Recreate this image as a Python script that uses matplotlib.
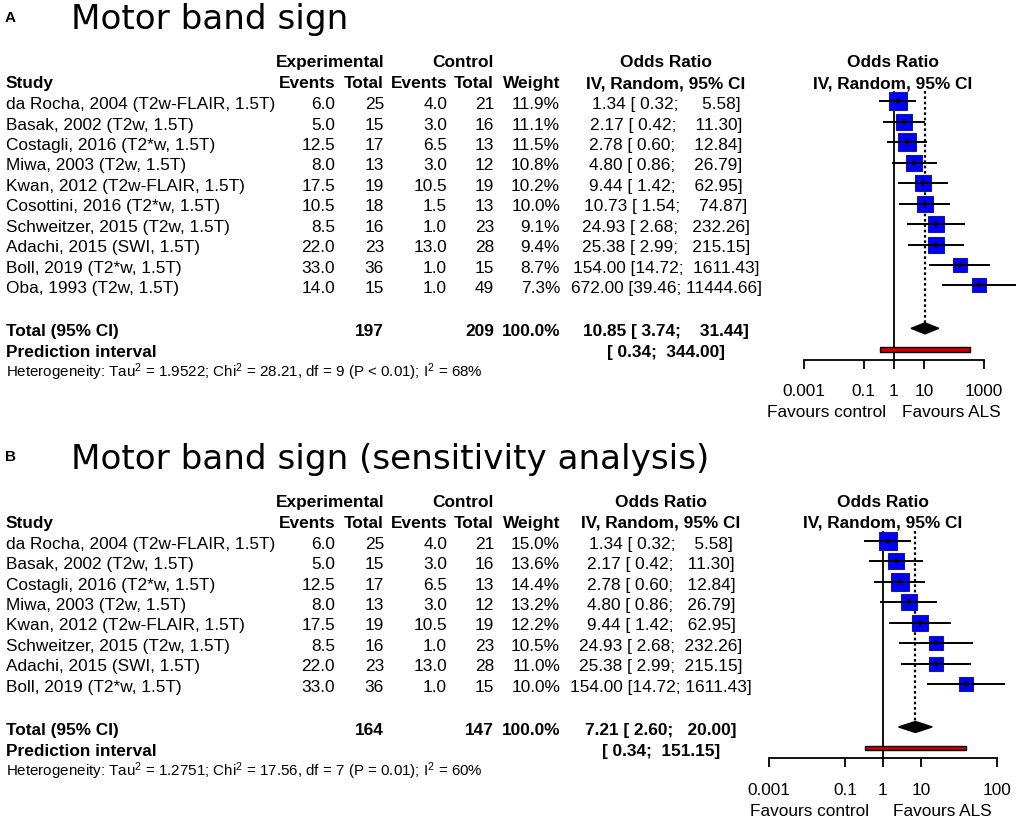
import numpy as np
import matplotlib
matplotlib.use("Agg")
import matplotlib.pyplot as plt
from matplotlib.ticker import FixedLocator, FixedFormatter, NullLocator

plt.rcParams['font.family'] = ['Liberation Sans', 'DejaVu Sans']
plt.rcParams['mathtext.fontset'] = 'custom'
plt.rcParams['mathtext.rm'] = 'Liberation Sans'
plt.rcParams['mathtext.it'] = 'Liberation Sans:italic'
plt.rcParams['mathtext.bf'] = 'Liberation Sans:bold'

# ---- data -------------------------------------------------------------
studies = [
    "da Rocha, 2004 (T2w-FLAIR, 1.5T)",
    "Basak, 2002 (T2w, 1.5T)",
    "Costagli, 2016 (T2*w, 1.5T)",
    "Miwa, 2003 (T2w, 1.5T)",
    "Kwan, 2012 (T2w-FLAIR, 1.5T)",
    "Cosottini, 2016 (T2*w, 1.5T)",
    "Schweitzer, 2015 (T2w, 1.5T)",
    "Adachi, 2015 (SWI, 1.5T)",
    "Boll, 2019 (T2*w, 1.5T)",
    "Oba, 1993 (T2w, 1.5T)",
]
exp_events = [6.0, 5.0, 12.5, 8.0, 17.5, 10.5, 8.5, 22.0, 33.0, 14.0]
exp_total = [25, 15, 17, 13, 19, 18, 16, 23, 36, 15]
ctrl_events = [4.0, 3.0, 6.5, 3.0, 10.5, 1.5, 1.0, 13.0, 1.0, 1.0]
ctrl_total = [21, 16, 13, 12, 19, 13, 23, 28, 15, 49]
odds_ratio = [1.34, 2.17, 2.78, 4.80, 9.44, 10.73, 24.93, 25.38, 154.00, 672.00]
ci_lower = [0.32, 0.42, 0.60, 0.86, 1.42, 1.54, 2.68, 2.99, 14.72, 39.46]
ci_upper = [5.58, 11.30, 12.84, 26.79, 62.95, 74.87, 232.26, 215.15, 1611.43, 11444.66]

# panel A: all studies
rows_main = list(range(10))
weight_main = [11.9, 11.1, 11.5, 10.8, 10.2, 10.0, 9.1, 9.4, 8.7, 7.3]
pooled_main = [10.85, 3.74, 31.44]
pred_main = [0.34, 344.00]
n_main = [197, 209]
het_main = ("Heterogeneity: Tau$^2$ = 1.9522; Chi$^2$ = 28.21, "
            "df = 9 (P < 0.01); I$^2$ = 68%")
ticks_main = [0.001, 0.1, 1, 10, 1000]
ticklabels_main = ["0.001", "0.1", "1", "10", "1000"]

# panel B: sensitivity analysis (Cosottini and Oba left out)
rows_sens = [0, 1, 2, 3, 4, 6, 7, 8]
weight_sens = [15.0, 13.6, 14.4, 13.2, 12.2, 10.5, 11.0, 10.0]
pooled_sens = [7.21, 2.60, 20.00]
pred_sens = [0.34, 151.15]
n_sens = [164, 147]
het_sens = ("Heterogeneity: Tau$^2$ = 1.2751; Chi$^2$ = 17.56, "
            "df = 7 (P = 0.01); I$^2$ = 60%")
ticks_sens = [0.001, 0.1, 1, 10, 1000]
ticklabels_sens = ["0.001", "0.1", "1", "10", "100"]

# ---- figure -----------------------------------------------------------
W, H = 1021, 823
DPI = 100
FS = 12.4          # table font (pt)
PX = DPI / 72.0

fig = plt.figure(figsize=(W / DPI, H / DPI), dpi=DPI)
ax = fig.add_axes([0, 0, 1, 1])
ax.set_xlim(0, W)
ax.set_ylim(H, 0)
ax.axis('off')


def txt(x, yc, s, ha='left', bold=False, size=FS, cap=0.716, **kw):
    # yc = vertical centre of the capitals, in pixels
    ax.text(x, yc + cap * size * PX / 2, s, ha=ha, va='baseline',
            fontsize=size, fontweight='bold' if bold else 'normal', **kw)


def fmt_ci(est, lo, hi, w1, w2, w3):
    s = f"{est:.2f}".rjust(w1) + " [" + f"{lo:.2f}".rjust(w2) + "; " + f"{hi:.2f}".rjust(w3) + "]"
    return s.strip()


def draw_panel(top, letter, title, rows, weights, pooled, pred, n_tot, het,
               ticks, ticklabels, x_lo_px, x_hi_px, or_cx, fp_cx):
    row0 = top + 103.0
    dy = 20.44
    n = len(rows)
    total_y = row0 + (n + 1) * dy + 2
    pred_y = total_y + 21
    het_y = pred_y + 21

    # title
    txt(5, top + 16.5, letter, bold=True, size=11)
    txt(71, top + 17, title, size=24.6, cap=0.729, family='DejaVu Sans')

    # headers
    h1, h2 = top + 61, top + 82
    txt(384, h1, "Experimental", ha='right', bold=True)
    txt(494, h1, "Control", ha='right', bold=True)
    txt(or_cx, h1, "Odds Ratio", ha='center', bold=True)
    txt(fp_cx, h1, "Odds Ratio", ha='center', bold=True)
    txt(6, h2, "Study", bold=True)
    txt(335, h2, "Events", ha='right', bold=True)
    txt(384, h2, "Total", ha='right', bold=True)
    txt(447, h2, "Events", ha='right', bold=True)
    txt(494, h2, "Total", ha='right', bold=True)
    txt(560, h2, "Weight", ha='right', bold=True)
    txt(or_cx, h2, "IV, Random, 95% CI", ha='center', bold=True)
    txt(fp_cx, h2, "IV, Random, 95% CI", ha='center', bold=True)

    ors = [odds_ratio[i] for i in rows] + [pooled[0]]
    los = [ci_lower[i] for i in rows] + [pooled[1]]
    his = [ci_upper[i] for i in rows] + [pooled[2]]
    w1 = max(len(f"{v:.2f}") for v in ors)
    w2 = max(len(f"{v:.2f}") for v in los)
    w3 = max(len(f"{v:.2f}") for v in his)

    for k, i in enumerate(rows):
        y = row0 + k * dy
        txt(6, y, studies[i])
        txt(335, y, f"{exp_events[i]:.1f}", ha='right')
        txt(384, y, f"{exp_total[i]}", ha='right')
        txt(447, y, f"{ctrl_events[i]:.1f}", ha='right')
        txt(494, y, f"{ctrl_total[i]}", ha='right')
        txt(560, y, f"{weights[k]:.1f}%", ha='right')
        txt(or_cx, y, fmt_ci(odds_ratio[i], ci_lower[i], ci_upper[i], w1, w2, w3), ha='center')

    txt(6, total_y, "Total (95% CI)", bold=True)
    txt(384, total_y, f"{n_tot[0]}", ha='right', bold=True)
    txt(494, total_y, f"{n_tot[1]}", ha='right', bold=True)
    txt(560, total_y, "100.0%", ha='right', bold=True)
    txt(or_cx, total_y, fmt_ci(pooled[0], pooled[1], pooled[2], w1, w2, w3), ha='center', bold=True)
    txt(6, pred_y, "Prediction interval", bold=True)
    txt(or_cx, pred_y, f"[{pred[0]:.2f}".replace("[", "[ ") + ";  " + f"{pred[1]:.2f}]",
        ha='center', bold=True)
    txt(6, het_y, het, size=10.9)

    # forest plot axes, y in pixel units so rows line up with the table
    ax_top = row0 - 12
    ax_bot = pred_y + 9
    fx = fig.add_axes([x_lo_px / W, 1 - ax_bot / H,
                       (x_hi_px - x_lo_px) / W, (ax_bot - ax_top) / H])
    fx.set_xscale('log')
    fx.set_xlim(1e-3, 1e3)
    fx.set_ylim(ax_bot, ax_top)
    fx.patch.set_visible(False)
    for sp in ['top', 'right', 'left']:
        fx.spines[sp].set_visible(False)
    fx.spines['bottom'].set_linewidth(1.3)
    fx.set_yticks([])
    fx.xaxis.set_major_locator(FixedLocator(ticks))
    fx.xaxis.set_major_formatter(FixedFormatter(ticklabels))
    fx.xaxis.set_minor_locator(NullLocator())
    fx.tick_params(axis='x', direction='out', length=6.5, width=1.3,
                   labelsize=FS, pad=11)

    fx.axvline(1, color='black', lw=1.3, zorder=1)
    fx.vlines(pooled[0], ax_top, total_y - 5.5, color='black', lw=1.6,
              linestyles=(0, (1.2, 1.2)), zorder=1)

    wmax = max(weights)
    for k, i in enumerate(rows):
        y = row0 - 1.5 + k * dy
        side = 17.5 * np.sqrt(weights[k] / wmax) * 0.72
        fx.plot(odds_ratio[i], y, marker='s', ms=side, mfc='#0000ff',
                mec='#1a1a8c', mew=0.8, zorder=2, clip_on=False)
        fx.hlines(y, ci_lower[i], ci_upper[i], color='black', lw=1.4,
                  zorder=3, clip_on=False)
        fx.plot(odds_ratio[i], y, marker='|', ms=5, mew=1.4, color='black',
                zorder=4, clip_on=False)

    dh = 5.5
    yd = total_y - 1.5
    fx.fill([pooled[1], pooled[0], pooled[2], pooled[0]],
            [yd, yd - dh, yd, yd + dh], color='black', zorder=3, clip_on=False)
    yp = pred_y - 1.5
    fx.fill([pred[0], pred[1], pred[1], pred[0]],
            [yp - 2.3, yp - 2.3, yp + 2.3, yp + 2.3], facecolor='#cc0000',
            edgecolor='black', lw=1.0, zorder=3, clip_on=False)

    # favours labels
    one_px = x_lo_px + (x_hi_px - x_lo_px) * 0.5
    fav_y = ax_bot + 51
    txt(one_px - 8 if top == 0 else one_px - 14, fav_y, "Favours control", ha='right')
    txt(one_px + 8 if top == 0 else one_px + 10, fav_y, "Favours ALS", ha='left')


draw_panel(0, "A", "Motor band sign", rows_main, weight_main, pooled_main,
           pred_main, n_main, het_main, ticks_main, ticklabels_main,
           803.7, 984.0, 666, 893)
draw_panel(439.5, "B", "Motor band sign (sensitivity analysis)", rows_sens,
           weight_sens, pooled_sens, pred_sens, n_sens, het_sens, ticks_sens,
           ticklabels_sens, 769.0, 996.7, 661, 883)

fig.savefig("out.png", dpi=DPI)
